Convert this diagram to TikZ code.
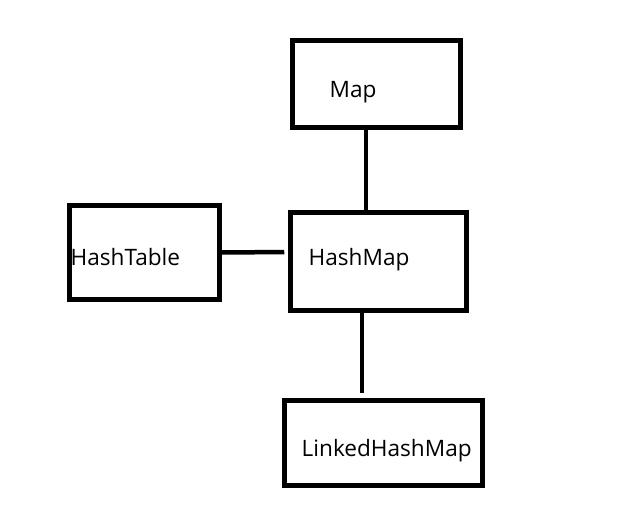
\documentclass[tikz,border=0pt]{standalone}
\usepackage{fontspec}
\setmainfont{Open Sans}
\usetikzlibrary{positioning}

\tikzset{
    box/.style = {rectangle, draw, line width = 4.5pt, inner sep = 0pt},
    lbl/.style = {anchor = base west, inner sep = 0pt, font = \fontsize{22.6}{27}\selectfont},
    conn/.style = {draw, line width = 4.5pt}
}

\begin{document}
\begin{tikzpicture}[x=1pt, y=-1pt]
    \useasboundingbox (0,0) rectangle (641,529);
    % boxes
    \node(map) [box, minimum width = 168pt, minimum height = 87pt] at (376.5,84) {};
    \node(hashmap) [box, minimum width = 176pt, minimum height = 98pt] at (378.5,261.5) {};
    \node(hashtable) [box, minimum width = 150pt, minimum height = 94pt] at (144.5,252.5) {};
    \node(linked) [box, minimum width = 198pt, minimum height = 85pt] at (383.5,443) {};

    % texts
    \node(map-txt) [lbl] at (329.5,98) {Map};
    \node(hashmap-txt) [lbl] at (308.5,265.5) {HashMap};
    \node(hashtable-txt) [lbl] at (70.5,266) {HashTable};
    \node(linked-txt) [lbl] at (301.5,457) {LinkedHashMap};

    % connectors
    \draw[conn] ([xshift=-10.5pt]map.south) -- ([xshift=-12.5pt]hashmap.north);
    \draw[conn, shorten >= 4pt] (hashtable.east) -- ([yshift=9.5pt]hashmap.west);
    \draw[conn, shorten >= 5pt] ([xshift=-16.5pt]hashmap.south) -- ([xshift=-21.5pt]linked.north);
\end{tikzpicture}
\end{document}
